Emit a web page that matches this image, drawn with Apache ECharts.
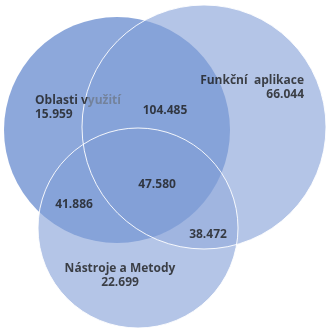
<!DOCTYPE html>
<html>
<head>
<meta charset="utf-8">
<script src="https://cdn.jsdelivr.net/npm/echarts@6/dist/echarts.min.js"></script>
<style>
  html, body { margin: 0; padding: 0; background: #fff; }
  #main { width: 326px; height: 328px; }
</style>
</head>
<body>
<div id="main"></div>
<script>
// sets of the diagram
let setNames = ['Oblasti využití', 'Funkční  aplikace', 'Nástroje a Metody'];
// circle geometry in chart units: [cx, cy, r]
let setCircles = [[117, 130, 113], [204, 127, 122], [138, 228, 100]];

// region values
let regionValues = ['15.959', '66.044', '22.699', '104.485', '41.886', '38.472', '47.580'];
// where each region label sits
let regionAnchors = [[35, 108], [304, 88], [120, 276], [165, 111], [74, 205], [208, 235], [157, 185]];

let myChart = echarts.init(document.getElementById('main'));

function circleItem(params, api, style) {
    let c = api.coord([api.value(0), api.value(1)]);
    let r = api.size([api.value(2), api.value(2)])[0];
    return {
        type: 'circle',
        shape: { cx: c[0], cy: c[1], r: r },
        style: style
    };
}

// draw order: light circles first, darker one on top, then white outlines
let fillData = [setCircles[1], setCircles[2], setCircles[0]];
let fillStyles = [
    { fill: 'rgb(153,176,222)', opacity: 0.733, blend: 'darken' },
    { fill: 'rgb(153,176,222)', opacity: 0.733, blend: 'darken' },
    { fill: 'rgb(129,159,215)', opacity: 0.9 }
];

function labelText(i) {
    if (i === 0) return '{k|Oblasti v}{g|yužití}\n{k|' + regionValues[0] + '}';
    if (i === 1) return '{k|' + setNames[1] + '}\n{r|' + regionValues[1] + '}';
    if (i === 2) return '{k|' + setNames[2] + '}\n{k|' + regionValues[2] + '}';
    return '{k|' + regionValues[i] + '}';
}

let labelData = regionAnchors.map((p, i) => {
    let align = 'center';
    if (i === 0) align = 'left';
    if (i === 1) align = 'right';
    return {
        value: p,
        label: { align: align, formatter: labelText(i) }
    };
});

let option = {
    animation: false,
    grid: { left: 0, right: 0, top: 0, bottom: 0 },
    xAxis: { type: 'value', min: 0, max: 326, show: false },
    yAxis: { type: 'value', min: 0, max: 328, inverse: true, show: false },
    series: [
        {
            type: 'custom',
            renderItem: (params, api) => circleItem(params, api, fillStyles[params.dataIndex]),
            data: fillData,
            z: 1
        },
        {
            type: 'custom',
            renderItem: (params, api) => circleItem(params, api, { fill: 'none', stroke: 'rgba(255,255,255,0.9)', lineWidth: 1 }),
            data: [setCircles[1], setCircles[2]],
            z: 2
        },
        {
            type: 'scatter',
            symbolSize: 0,
            z: 3,
            data: labelData,
            label: {
                show: true,
                position: 'inside',
                verticalAlign: 'middle',
                lineHeight: 14,
                rich: {
                    k: { fontFamily: 'Open Sans', fontWeight: 'bold', fontSize: 12, color: '#1c1c1c', lineHeight: 14 },
                    g: { fontFamily: 'Open Sans', fontWeight: 'bold', fontSize: 12, color: '#6f7a8c', lineHeight: 14 },
                    r: { fontFamily: 'Open Sans', fontWeight: 'bold', fontSize: 12, color: '#1c1c1c', lineHeight: 14, align: 'right' }
                }
            }
        }
    ]
};
myChart.setOption(option);
</script>
</body>
</html>
